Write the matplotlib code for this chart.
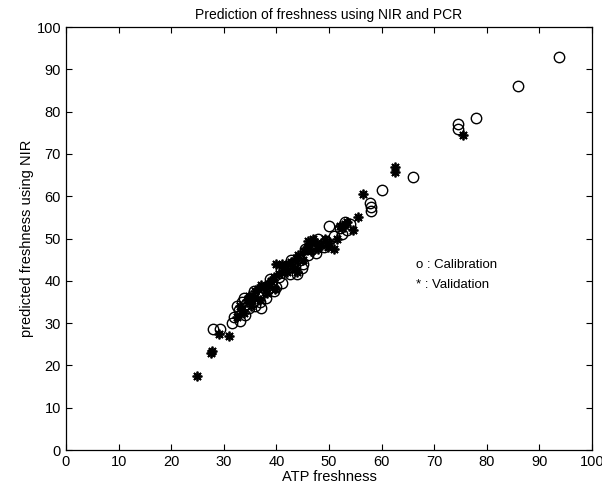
import numpy as np
import matplotlib.pyplot as plt

plt.rcParams['font.family'] = ['Liberation Sans', 'DejaVu Sans']

# calibration set (open circles)
cal_x = [28.0, 29.2, 31.5, 32.0, 32.8, 33.0, 33.5, 34.0, 34.2, 34.8, 35.0, 35.5,
         36.0, 36.5, 37.0, 37.2, 38.0, 38.5, 39.0, 39.5, 40.0, 40.5, 41.0, 41.5,
         42.0, 42.5, 43.0, 43.5, 44.0, 44.5, 45.0, 45.5, 46.0, 47.0, 47.5, 48.0,
         49.0, 50.0, 51.0, 52.0, 52.5, 53.0, 53.5, 54.0, 57.8, 58.0, 58.0, 60.0,
         66.0, 74.5, 74.6, 78.0, 86.0, 93.8,
         32.5, 33.8, 35.8, 36.8, 38.8, 40.8, 42.8, 44.8, 46.8, 49.5]
cal_y = [28.5, 28.5, 30.0, 31.5, 33.0, 30.5, 35.0, 32.0, 34.5, 33.5, 36.0, 35.0,
         34.0, 36.5, 33.5, 37.0, 36.0, 38.0, 39.5, 37.5, 38.5, 41.0, 39.5, 42.5,
         43.0, 41.5, 44.0, 43.5, 41.5, 45.0, 44.0, 47.5, 46.0, 48.5, 46.5, 50.0,
         48.0, 53.0, 50.5, 52.5, 51.0, 54.0, 52.0, 53.5, 58.5, 57.5, 56.5, 61.5,
         64.5, 77.0, 76.0, 78.5, 86.0, 93.0,
         34.0, 36.0, 37.5, 35.0, 40.5, 42.5, 45.0, 43.0, 47.5, 49.5]

# validation set (asterisks)
val_x = [25.0, 27.5, 27.8, 29.0, 31.0, 32.5, 33.0, 33.8, 34.5, 35.2, 36.0, 36.8,
         37.5, 38.2, 39.0, 39.8, 40.5, 41.2, 42.0, 42.8, 43.5, 44.2, 45.0, 45.8,
         46.5, 47.0, 47.8, 48.5, 49.2, 50.0, 51.0, 51.5, 52.5, 53.5, 54.5, 55.5,
         56.5, 62.5, 62.6, 75.5, 36.5, 40.0, 44.0, 46.0,
         33.5, 34.8, 35.8, 37.0, 38.5, 39.5, 41.0, 42.5, 43.8, 45.2, 46.8, 48.0,
         49.8, 52.0, 53.0]
val_y = [17.5, 23.0, 23.4, 27.5, 27.0, 31.5, 34.0, 32.5, 35.5, 34.0, 37.5, 35.5,
         38.5, 37.0, 40.0, 38.0, 41.5, 43.0, 42.0, 44.5, 43.0, 46.0, 45.0, 48.0,
         47.0, 50.0, 49.0, 48.5, 50.0, 49.0, 47.5, 50.0, 52.5, 54.0, 52.0, 55.0,
         60.5, 67.0, 65.8, 74.5, 38.0, 44.0, 42.0, 49.5,
         33.0, 36.5, 36.0, 39.0, 39.0, 41.0, 44.0, 44.0, 45.5, 47.0, 49.0, 47.5,
         48.0, 53.0, 53.5]

fig = plt.figure(figsize=(6.02, 4.91), dpi=100)
ax = fig.add_axes([0.1096, 0.0835, 0.8738, 0.8615])

ax.plot(cal_x, cal_y, 'o', mfc='none', mec='black', ms=7.5, mew=1.0)
ax.plot(val_x, val_y, ls='none', marker=(8, 2, 0), color='black', ms=7, mew=1.3)

ax.text(66.5, 43, 'o : Calibration', fontsize=9.5)
ax.text(66.5, 38.3, '* : Validation', fontsize=9.5)

ax.set_xlim(0, 100)
ax.set_ylim(0, 100)
ax.set_xticks(np.arange(0, 101, 10))
ax.set_yticks(np.arange(0, 101, 10))
ax.tick_params(direction='in', top=True, right=True, labelsize=10.5, length=4)
for s in ax.spines.values():
    s.set_linewidth(0.9)

ax.set_title('Prediction of freshness using NIR and PCR', fontsize=10)
ax.set_xlabel('ATP freshness', fontsize=10.5, labelpad=1)
ax.set_ylabel('predicted freshness using NIR', fontsize=10.5, labelpad=2)

fig.savefig('out.png', dpi=100)
